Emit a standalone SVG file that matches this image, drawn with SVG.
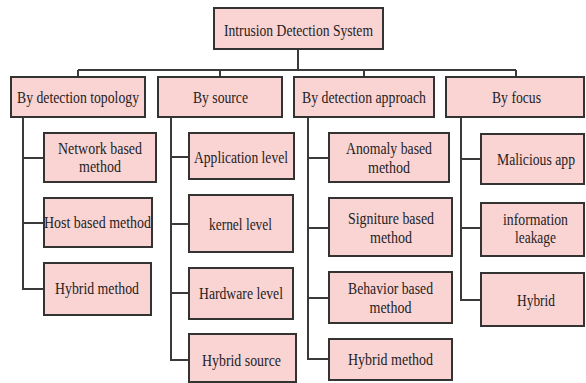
<svg xmlns="http://www.w3.org/2000/svg" width="586" height="383" viewBox="0 0 586 383">
<style>
.box{fill:#fad3d3;stroke:#333;stroke-width:2}
.t{font-family:"Liberation Serif","Times New Roman",serif;font-size:16.5px;fill:#1e1e1e;text-anchor:middle}
.c{fill:none;stroke:#3a3a3a;stroke-width:2}
</style>
<rect width="586" height="383" fill="#fff"/>
<g id="connectors">
<path class="c" d="M298 49V70M78 70H516M78 70V77M220 70V77M364 70V77M516 70V77"/>
<path class="c" d="M23 117V289H44M23 158H44M23 223H44"/>
<path class="c" d="M171 117V360H189M171 157H189M171 224H189M171 293H189"/>
<path class="c" d="M308 117V359H329M308 158H329M308 228H329M308 298H329"/>
<path class="c" d="M461 117V300H481M461 159H481M461 228H481"/>
</g>
<g id="root"><rect class="box" x="214" y="8" width="169" height="41"/><text class="t" x="298.5" y="35.5" textLength="149" lengthAdjust="spacingAndGlyphs">Intrusion Detection System</text></g>
<g id="topology"><rect class="box" x="11" y="77" width="134" height="40"/><text class="t" x="78" y="102.5" textLength="122" lengthAdjust="spacingAndGlyphs">By detection topology</text></g>
<g id="source"><rect class="box" x="158" y="77" width="124" height="40"/><text class="t" x="220.5" y="102.5" textLength="55" lengthAdjust="spacingAndGlyphs">By source</text></g>
<g id="approach"><rect class="box" x="294" y="77" width="140" height="40"/><text class="t" x="364" y="102.5" textLength="124" lengthAdjust="spacingAndGlyphs">By detection approach</text></g>
<g id="focus"><rect class="box" x="446" y="77" width="138" height="40"/><text class="t" x="516.5" y="102.5" textLength="49" lengthAdjust="spacingAndGlyphs">By focus</text></g>
<g id="network"><rect class="box" x="44" y="133" width="112" height="49"/><text class="t" x="100" y="153.5" textLength="84" lengthAdjust="spacingAndGlyphs">Network based</text><text class="t" x="100" y="171.5" textLength="42" lengthAdjust="spacingAndGlyphs">method</text></g>
<g id="host"><rect class="box" x="44" y="198" width="108" height="49"/><text class="t" x="97.5" y="227.5" textLength="107" lengthAdjust="spacingAndGlyphs">Host based method</text></g>
<g id="hybrid-method-1"><rect class="box" x="44" y="263" width="107" height="52"/><text class="t" x="97" y="293.5" textLength="84" lengthAdjust="spacingAndGlyphs">Hybrid method</text></g>
<g id="application"><rect class="box" x="189" y="133" width="105" height="46"/><text class="t" x="241" y="162.5" textLength="94" lengthAdjust="spacingAndGlyphs">Application level</text></g>
<g id="kernel"><rect class="box" x="189" y="195" width="104" height="57"/><text class="t" x="240.5" y="229.5" textLength="63" lengthAdjust="spacingAndGlyphs">kernel level</text></g>
<g id="hardware"><rect class="box" x="189" y="268" width="104" height="51"/><text class="t" x="241" y="298.5" textLength="84" lengthAdjust="spacingAndGlyphs">Hardware level</text></g>
<g id="hybrid-source"><rect class="box" x="189" y="334" width="107" height="48"/><text class="t" x="241.5" y="365.5" textLength="79" lengthAdjust="spacingAndGlyphs">Hybrid source</text></g>
<g id="anomaly"><rect class="box" x="329" y="133" width="120" height="49"/><text class="t" x="389" y="153.5" textLength="86" lengthAdjust="spacingAndGlyphs">Anomaly based</text><text class="t" x="389" y="172.5" textLength="42" lengthAdjust="spacingAndGlyphs">method</text></g>
<g id="signature"><rect class="box" x="329" y="198" width="123" height="58"/><text class="t" x="391" y="223.5" textLength="86" lengthAdjust="spacingAndGlyphs">Signiture based</text><text class="t" x="391" y="242.5" textLength="42" lengthAdjust="spacingAndGlyphs">method</text></g>
<g id="behavior"><rect class="box" x="329" y="272" width="123" height="51"/><text class="t" x="390.5" y="293.5" textLength="85" lengthAdjust="spacingAndGlyphs">Behavior based</text><text class="t" x="390.5" y="312.5" textLength="42" lengthAdjust="spacingAndGlyphs">method</text></g>
<g id="hybrid-method-2"><rect class="box" x="329" y="339" width="123" height="41"/><text class="t" x="390.5" y="364.5" textLength="85" lengthAdjust="spacingAndGlyphs">Hybrid method</text></g>
<g id="malicious"><rect class="box" x="481" y="134" width="103" height="50"/><text class="t" x="536" y="164.5" textLength="78" lengthAdjust="spacingAndGlyphs">Malicious app</text></g>
<g id="leakage"><rect class="box" x="481" y="203" width="103" height="53"/><text class="t" x="535.5" y="224.5" textLength="65" lengthAdjust="spacingAndGlyphs">information</text><text class="t" x="535.5" y="242.5" textLength="41" lengthAdjust="spacingAndGlyphs">leakage</text></g>
<g id="hybrid"><rect class="box" x="481" y="273" width="103" height="53"/><text class="t" x="536" y="305.5" textLength="38" lengthAdjust="spacingAndGlyphs">Hybrid</text></g>
</svg>
